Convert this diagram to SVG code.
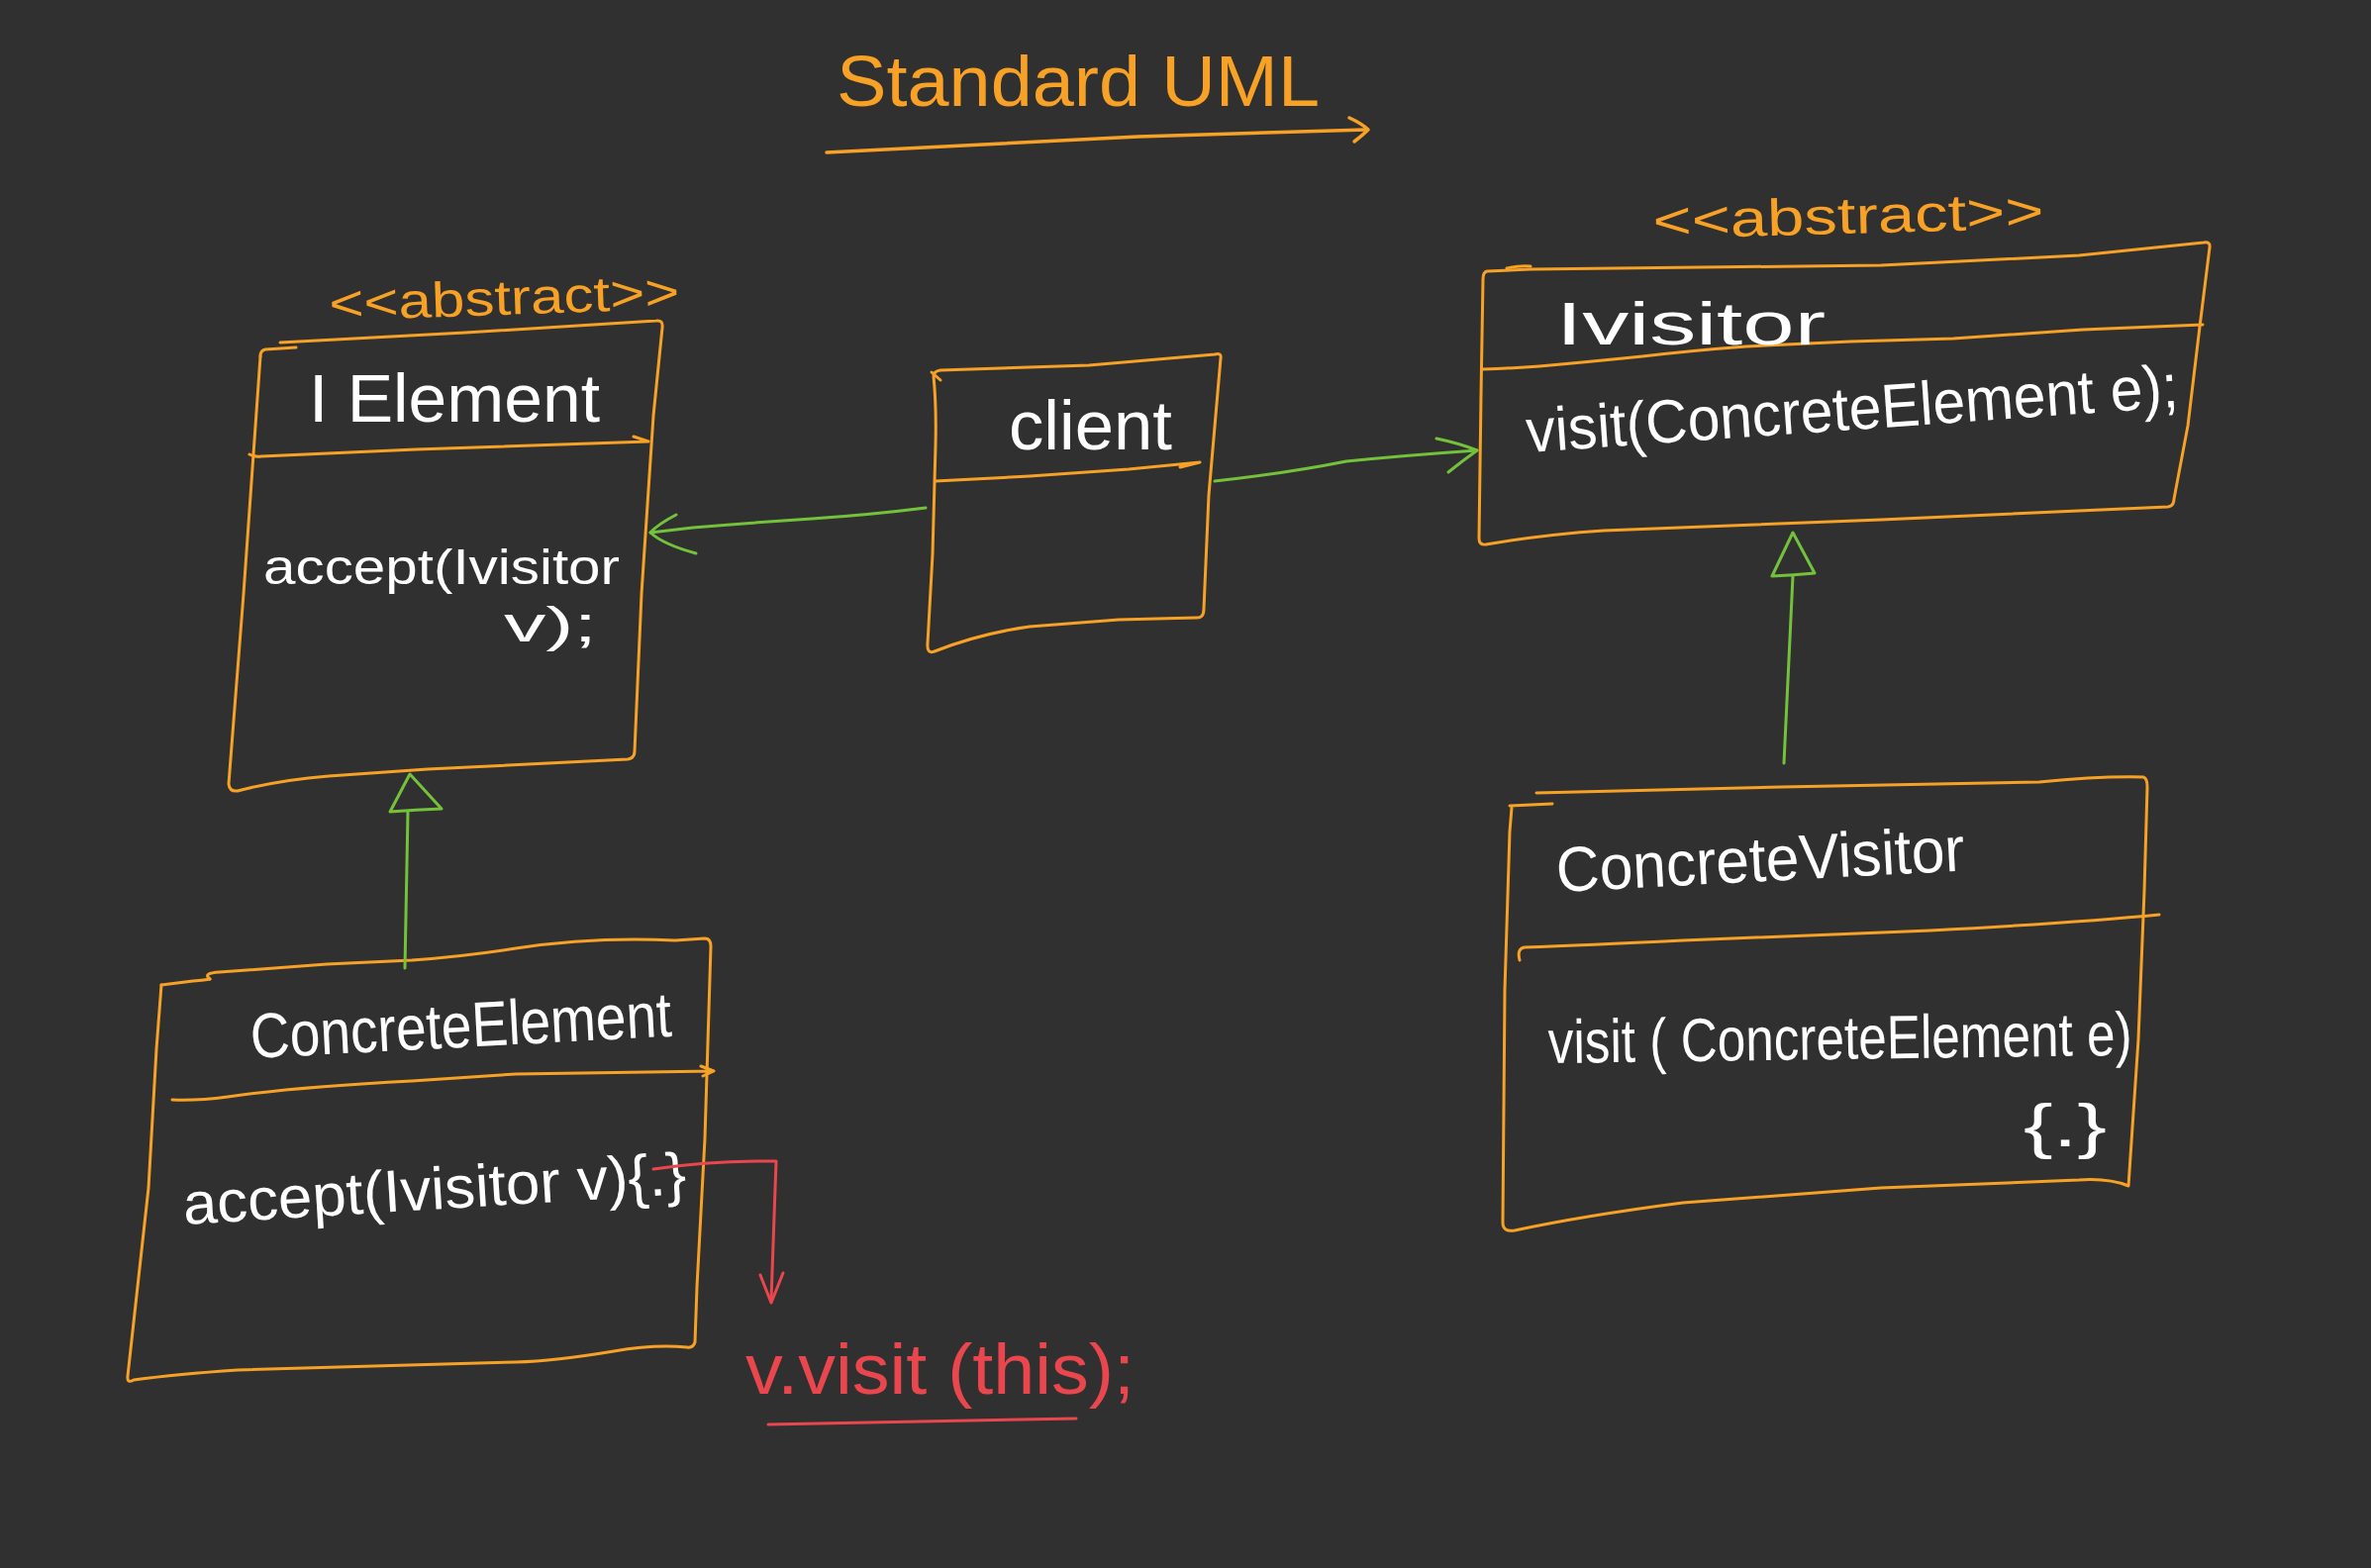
<svg xmlns="http://www.w3.org/2000/svg" width="2395" height="1584" viewBox="0 0 2395 1584">
<style>
.bg{fill:#303030}
.box{fill:none;stroke:#f7a126;stroke-width:3;stroke-linecap:round;stroke-linejoin:round}
.g{fill:none;stroke:#74c23b;stroke-width:3;stroke-linecap:round;stroke-linejoin:round}
.r{fill:none;stroke:#e9474d;stroke-width:3;stroke-linecap:round;stroke-linejoin:round}
.o{fill:none;stroke:#f7a126;stroke-width:3.5;stroke-linecap:round;stroke-linejoin:round}
text{font-family:"Liberation Sans","DejaVu Sans",sans-serif}
.wt{fill:#ffffff}
.ot{fill:#f7a126}
.rt{fill:#e9474d}
</style>
<rect class="bg" x="0" y="0" width="2395" height="1584"/>

<g id="title">
  <text class="ot" x="845" y="107" font-size="72" textLength="488" lengthAdjust="spacingAndGlyphs">Standard UML</text>
  <path class="o" d="M835 154 Q1000 146 1150 138 L1380 131"/>
  <path class="o" d="M1363 119 Q1376 125 1382 131 Q1376 137 1368 143"/>
</g>

<g id="IElement">
  <text class="ot" x="333" y="324" font-size="50" textLength="354" lengthAdjust="spacingAndGlyphs" transform="rotate(-2 333 324)">&lt;&lt;abstract&gt;&gt;</text>
  <path class="box" d="M299 351 L268 353 Q263 354 263 360"/>
  <path class="box" d="M283 346 L470 336 L663 324 Q670 323 669 331 L660 420 L648 600 L641 759 Q641 766 634 767 L432 777 L332 784 Q282 788 240 799 Q232 800 231 792 L246 600 L263 360"/>
  <path class="box" d="M252 459 Q258 462 264 461 L420 454 L655 446 M640 441 L655 446"/>
  <text class="wt" x="312" y="426" font-size="68" textLength="294" lengthAdjust="spacingAndGlyphs">I Element</text>
  <text class="wt" x="266" y="590" font-size="50" textLength="360" lengthAdjust="spacingAndGlyphs">accept(Ivisitor</text>
  <text class="wt" x="509" y="648" font-size="50" textLength="94" lengthAdjust="spacingAndGlyphs">v);</text>
</g>

<g id="Client">
  <path class="box" d="M941 376 L950 384"/>
  <path class="box" d="M943 380 Q946 410 945 450 L942 560 L937 650 Q936 661 944 658 Q990 640 1040 633 L1130 626 L1208 624 Q1216 625 1216 615 L1221 500 L1233 362 Q1234 356 1227 358 L1100 369 L950 374 Q943 375 943 380"/>
  <path class="box" d="M945 486 L1040 481 L1140 474 L1212 467 M1192 472 L1212 467"/>
  <text class="wt" x="1019" y="454" font-size="70" textLength="165" lengthAdjust="spacingAndGlyphs">client</text>
</g>

<g id="IVisitor">
  <text class="ot" x="1670" y="241" font-size="52" textLength="395" lengthAdjust="spacingAndGlyphs" transform="rotate(-1.5 1670 241)">&lt;&lt;abstract&gt;&gt;</text>
  <path class="box" d="M1522 271 Q1535 268 1546 269"/>
  <path class="box" d="M1546 272 L1502 274 Q1498 275 1498 282 L1496 400 L1494 544 Q1494 551 1501 550 Q1560 540 1620 536 L1900 525 L2190 512 Q2196 511 2196 504 L2210 430 L2222 330 L2232 250 Q2233 244 2226 245 L2100 258 L1900 268 L1546 272"/>
  <path class="box" d="M1497 373 Q1530 372 1555 370 Q1610 365 1659 360 Q1710 354 1764 350 L1869 345 L1973 342 L2104 333 L2225 328"/>
  <text class="wt" x="1572" y="348" font-size="62" textLength="272" lengthAdjust="spacingAndGlyphs">Ivisitor</text>
  <text class="wt" x="1543" y="457" font-size="62" textLength="660" lengthAdjust="spacingAndGlyphs" transform="rotate(-4 1543 457)">visit(ConcreteElement e);</text>
</g>

<g id="ConcreteElement">
  <path class="box" d="M163 995 L195 991 Q208 990 212 989"/>
  <path class="box" d="M212 989 Q204 983 222 982 L330 974 L416 970 Q470 966 521 958 Q600 946 682 950 L712 948 Q718 948 718 956 L712 1150 L704 1300 L702 1356 Q700 1362 694 1361 Q660 1358 620 1365 Q560 1375 521 1376 L240 1384 Q180 1388 135 1394 Q128 1398 129 1390 L150 1200 L158 1060 L163 995"/>
  <path class="box" d="M174 1111 Q200 1112 230 1108 Q300 1098 416 1092 L521 1085 L721 1082 M708 1077 L721 1082 L710 1087"/>
  <text class="wt" x="254" y="1069" font-size="64" textLength="426" lengthAdjust="spacingAndGlyphs" transform="rotate(-3 254 1069)">ConcreteElement</text>
  <text class="wt" x="186" y="1237" font-size="60" textLength="509" lengthAdjust="spacingAndGlyphs" transform="rotate(-3.5 186 1237)">accept(Ivisitor v){.}</text>
</g>

<g id="ConcreteVisitor">
  <path class="box" d="M1525 814 L1568 812"/>
  <path class="box" d="M1552 801 L1800 795 L2060 790 Q2120 784 2165 785 Q2169 786 2169 795 L2166 900 L2160 1050 L2150 1198 Q2130 1190 2100 1192 L1900 1200 L1700 1215 Q1600 1228 1530 1243 Q1518 1245 1518 1235 L1520 1000 L1525 840 L1527 816"/>
  <path class="box" d="M1535 970 Q1532 958 1540 957 Q1600 955 1700 950 L1950 940 Q2100 932 2181 924"/>
  <text class="wt" x="1573" y="901" font-size="64" textLength="413" lengthAdjust="spacingAndGlyphs" transform="rotate(-3 1573 901)">ConcreteVisitor</text>
  <text class="wt" x="1564" y="1074" font-size="62" textLength="590" lengthAdjust="spacingAndGlyphs" transform="rotate(-0.8 1564 1074)">visit ( ConcreteElement e)</text>
  <text class="wt" x="2044" y="1158" font-size="62" textLength="84" lengthAdjust="spacingAndGlyphs">{.}</text>
</g>

<g id="note">
  <text class="rt" x="753" y="1408" font-size="72" textLength="393" lengthAdjust="spacingAndGlyphs">v.visit (this);</text>
  <path class="r" d="M776 1439 Q900 1436 1087 1433"/>
</g>

<g id="connectors">
  <path class="g" d="M935 513 Q880 520 820 524 Q760 528 700 533 L657 538"/>
  <path class="g" d="M683 520 Q664 530 657 538 Q670 550 703 559"/>
  <path class="g" d="M1227 486 Q1300 478 1360 466 Q1420 460 1492 455"/>
  <path class="g" d="M1451 443 Q1475 448 1492 455 Q1478 465 1463 477"/>
  <path class="g" d="M414 782 L394 820 Q420 818 446 817 Z M412 820 L409 978"/>
  <path class="g" d="M1811 538 L1790 582 Q1812 581 1833 579 Z M1811 582 L1802 771"/>
  <path class="r" d="M660 1181 Q720 1172 784 1173 L779 1313"/>
  <path class="r" d="M768 1288 L779 1316 L791 1286"/>
</g>
</svg>
